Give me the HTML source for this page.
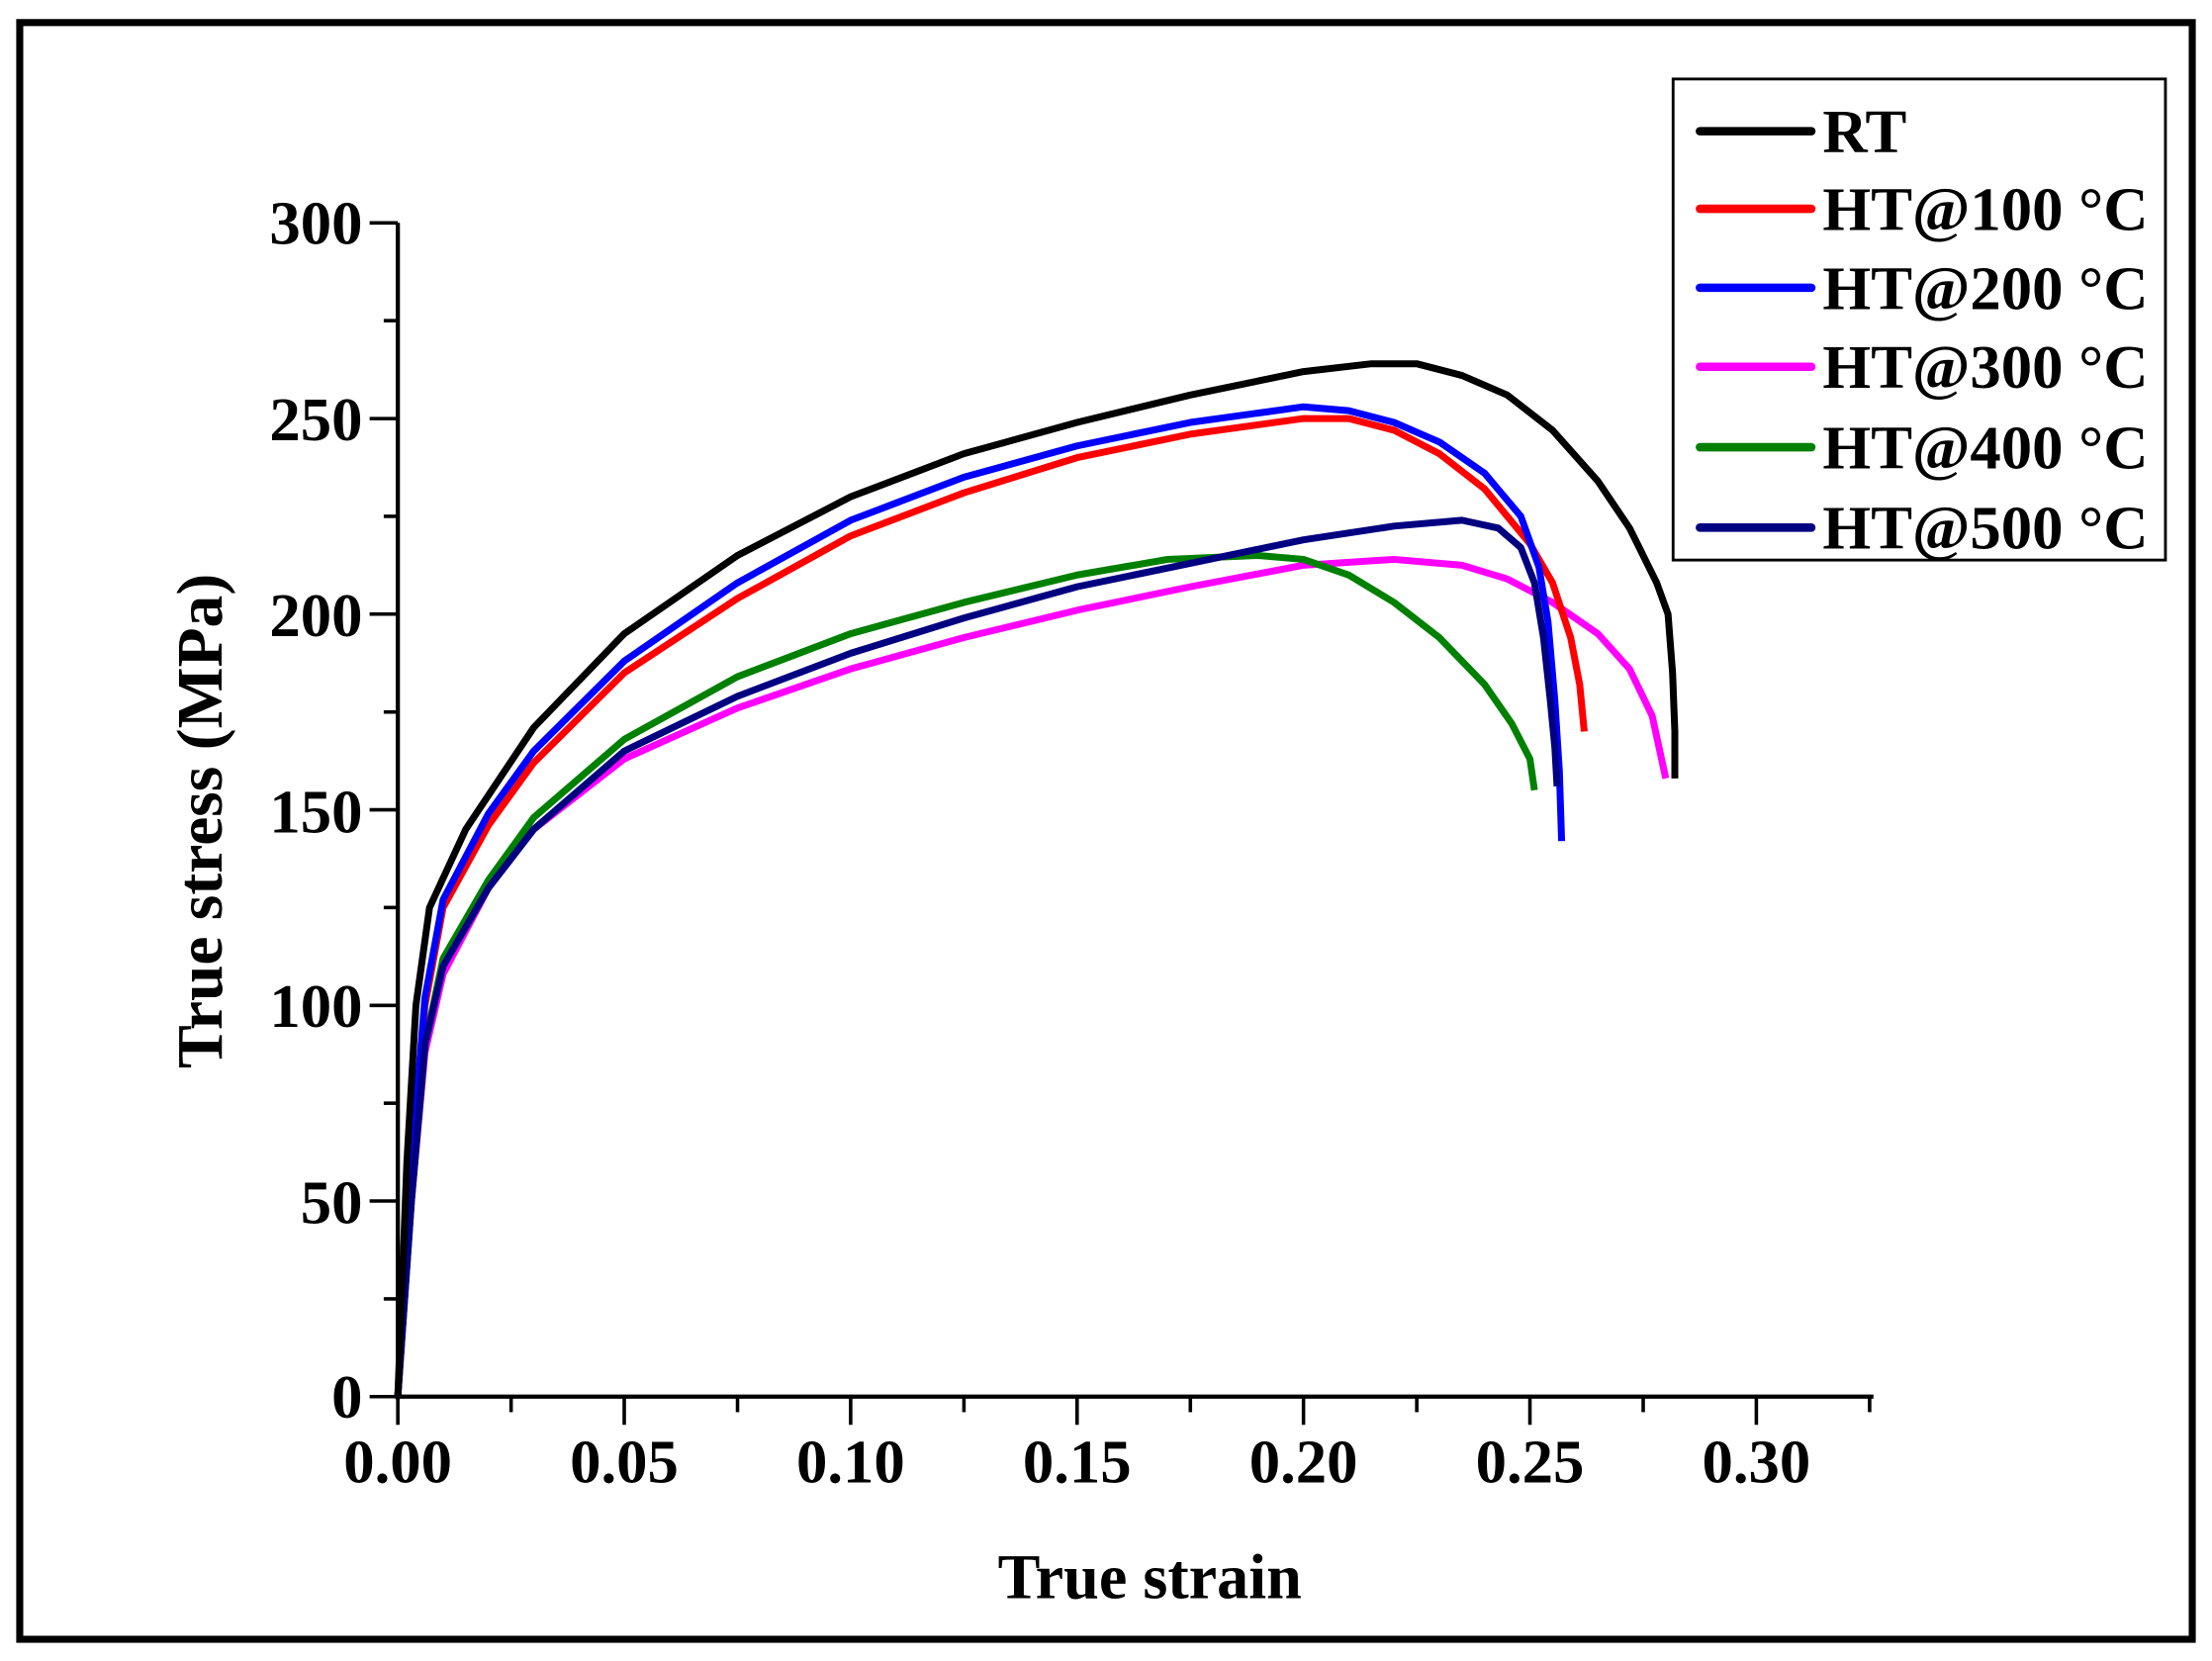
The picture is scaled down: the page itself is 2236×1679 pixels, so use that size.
<!DOCTYPE html>
<html><head><meta charset="utf-8"><style>html,body{margin:0;padding:0;background:#fff}svg{display:block}</style></head>
<body>
<svg width="2236" height="1679" viewBox="0 0 1568 1177.4" preserveAspectRatio="none" xmlns="http://www.w3.org/2000/svg" font-family="Liberation Serif, serif" font-weight="bold">
<rect x="0" y="0" width="1568" height="1177.4" fill="#fff"/>
<rect x="14" y="16" width="1540" height="1146" fill="none" stroke="#000" stroke-width="5"/>
<g stroke="#000" stroke-width="3" fill="none">
<line x1="282" y1="158" x2="282" y2="992"/>
<line x1="280" y1="990" x2="1328" y2="990"/>
<g stroke-width="2.5">
<line x1="262" y1="158" x2="282" y2="158"/><line x1="272" y1="227.3" x2="282" y2="227.3"/>
<line x1="262" y1="296.7" x2="282" y2="296.7"/><line x1="272" y1="366" x2="282" y2="366"/>
<line x1="262" y1="435.3" x2="282" y2="435.3"/><line x1="272" y1="504.7" x2="282" y2="504.7"/>
<line x1="262" y1="574" x2="282" y2="574"/><line x1="272" y1="643.3" x2="282" y2="643.3"/>
<line x1="262" y1="712.7" x2="282" y2="712.7"/><line x1="272" y1="782" x2="282" y2="782"/>
<line x1="262" y1="851.3" x2="282" y2="851.3"/><line x1="272" y1="920.7" x2="282" y2="920.7"/>
<line x1="262" y1="990" x2="282" y2="990"/>
<line x1="282" y1="990" x2="282" y2="1010"/><line x1="362.3" y1="990" x2="362.3" y2="1001"/>
<line x1="442.5" y1="990" x2="442.5" y2="1010"/><line x1="522.8" y1="990" x2="522.8" y2="1001"/>
<line x1="603" y1="990" x2="603" y2="1010"/><line x1="683.3" y1="990" x2="683.3" y2="1001"/>
<line x1="763.5" y1="990" x2="763.5" y2="1010"/><line x1="843.8" y1="990" x2="843.8" y2="1001"/>
<line x1="924" y1="990" x2="924" y2="1010"/><line x1="1004.3" y1="990" x2="1004.3" y2="1001"/>
<line x1="1084.5" y1="990" x2="1084.5" y2="1010"/><line x1="1164.8" y1="990" x2="1164.8" y2="1001"/>
<line x1="1245" y1="990" x2="1245" y2="1010"/><line x1="1325.3" y1="990" x2="1325.3" y2="1001"/>
</g></g>
<g font-size="44" text-anchor="end">
<text x="257" y="173">300</text><text x="257" y="312">250</text><text x="257" y="451">200</text>
<text x="257" y="590">150</text><text x="257" y="728">100</text><text x="257" y="867">50</text><text x="257" y="1005">0</text>
</g>
<g font-size="44" text-anchor="middle">
<text x="282" y="1051">0.00</text><text x="442.5" y="1051">0.05</text><text x="603" y="1051">0.10</text>
<text x="763.5" y="1051">0.15</text><text x="924" y="1051">0.20</text><text x="1084.5" y="1051">0.25</text><text x="1245" y="1051">0.30</text>
</g>
<text x="815" y="1133" font-size="45" text-anchor="middle">True strain</text>
<text transform="translate(157,582) rotate(-90)" font-size="46" text-anchor="middle">True stress (MPa)</text>
<g transform="translate(282,990) scale(3210,-2.7733)" fill="none" stroke-width="7" stroke-linejoin="round" stroke-linecap="butt">
<polyline vector-effect="non-scaling-stroke" stroke="#ff00ff" points="0,0 0.003,50 0.006,88 0.01,108 0.02,130 0.03,145 0.05,163 0.075,176 0.1,186 0.125,194 0.15,201 0.175,207 0.2,212.5 0.22,214 0.235,212.5 0.245,209 0.255,203 0.265,195 0.272,186 0.277,174 0.28,158"/>
<polyline vector-effect="non-scaling-stroke" stroke="#008000" points="0,0 0.003,50 0.006,90 0.01,112 0.02,132 0.03,148 0.05,168 0.075,184 0.1,195 0.125,203 0.15,210 0.17,214 0.19,215 0.2,214 0.21,210 0.22,203 0.23,194 0.24,182 0.246,172 0.25,163 0.251,155"/>
<polyline vector-effect="non-scaling-stroke" stroke="#ff0000" points="0,0 0.003,60 0.006,100 0.01,125 0.02,146 0.03,162 0.05,185 0.075,204 0.1,220 0.125,231 0.15,240 0.175,246 0.2,250 0.21,250 0.22,247 0.23,241 0.24,232 0.25,218 0.255,208 0.259,194 0.261,182 0.262,170"/>
<polyline vector-effect="non-scaling-stroke" stroke="#0000ff" points="0,0 0.003,60 0.006,102 0.01,127 0.02,149 0.03,165 0.05,188 0.075,208 0.1,224 0.125,235 0.15,243 0.175,249 0.2,253 0.21,252 0.22,249 0.23,244 0.24,236 0.248,225 0.252,212 0.254,198 0.2555,178 0.2565,160 0.257,142"/>
<polyline vector-effect="non-scaling-stroke" stroke="#000080" points="0,0 0.003,50 0.006,90 0.01,110 0.02,130 0.03,145 0.05,165 0.075,179 0.1,190 0.125,199 0.15,207 0.175,213 0.2,219 0.22,222.5 0.235,224 0.243,222 0.248,217 0.251,208 0.253,194 0.2545,178 0.2555,166 0.256,156"/>
<polyline vector-effect="non-scaling-stroke" stroke="#000000" points="0,0 0.002,60 0.004,100 0.007,125 0.015,145 0.03,171 0.05,195 0.075,215 0.1,230 0.125,241 0.15,249 0.175,256 0.2,262 0.215,264 0.225,264 0.235,261 0.245,256 0.255,247 0.265,234 0.272,222 0.278,208 0.2805,200 0.2815,185 0.282,170 0.282,158"/>
</g>
<rect x="1186" y="56" width="349" height="341" fill="#fff" stroke="#000" stroke-width="2"/>
<g stroke-width="6" stroke-linecap="round">
<line x1="1205" y1="93" x2="1284" y2="93" stroke="#000"/>
<line x1="1205" y1="148" x2="1284" y2="148" stroke="#ff0000"/>
<line x1="1205" y1="204" x2="1284" y2="204" stroke="#0000ff"/>
<line x1="1205" y1="260" x2="1284" y2="260" stroke="#ff00ff"/>
<line x1="1205" y1="317" x2="1284" y2="317" stroke="#008000"/>
<line x1="1205" y1="374" x2="1284" y2="374" stroke="#000080"/>
</g>
<g font-size="44">
<text x="1292" y="108">RT</text>
<text x="1292" y="163">HT@100 °C</text>
<text x="1292" y="219">HT@200 °C</text>
<text x="1292" y="275">HT@300 °C</text>
<text x="1292" y="332">HT@400 °C</text>
<text x="1292" y="389">HT@500 °C</text>
</g>
</svg>
</body></html>
